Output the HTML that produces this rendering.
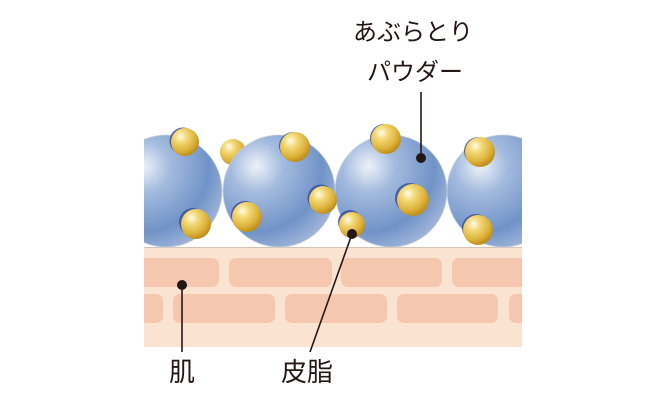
<!DOCTYPE html>
<html><head><meta charset="utf-8"><style>
html,body{margin:0;padding:0;background:#fff;width:670px;height:400px;overflow:hidden}
text{font-family:"Liberation Sans","Noto Sans CJK JP",sans-serif;fill:#231815}
</style></head><body>
<svg width="670" height="400" viewBox="0 0 670 400" xmlns="http://www.w3.org/2000/svg">
<defs>
<radialGradient id="bl" cx="0.3" cy="0.28" r="0.78">
<stop offset="0" stop-color="#eef2f9"/>
<stop offset="0.3" stop-color="#a4bbde"/>
<stop offset="0.75" stop-color="#7093c8"/>
<stop offset="1" stop-color="#9db3d8"/>
</radialGradient>
<radialGradient id="ye" cx="0.35" cy="0.3" r="0.7">
<stop offset="0" stop-color="#fffbe8"/>
<stop offset="0.3" stop-color="#f3da7a"/>
<stop offset="0.75" stop-color="#dcb23a"/>
<stop offset="1" stop-color="#c0901c"/>
</radialGradient>
<clipPath id="cl"><rect x="144" y="0" width="378" height="400"/></clipPath>
</defs>
<rect x="144" y="247" width="378" height="100" fill="#fbe3d2"/>
<line x1="144" y1="247.5" x2="522" y2="247.5" stroke="#d9c2b4" stroke-width="1"/>
<g fill="#f5c7ae" clip-path="url(#cl)">
<rect x="134" y="258" width="85" height="29" rx="7"/>
<rect x="229" y="258" width="103" height="29" rx="7"/>
<rect x="341" y="258" width="101" height="29" rx="7"/>
<rect x="452" y="258" width="80" height="29" rx="7"/>
<rect x="134" y="294" width="29" height="29" rx="7"/>
<rect x="173" y="294" width="102" height="29" rx="7"/>
<rect x="285" y="294" width="102" height="29" rx="7"/>
<rect x="397" y="294" width="101" height="29" rx="7"/>
<rect x="509" y="294" width="30" height="29" rx="7"/>
</g>
<g clip-path="url(#cl)">
<circle cx="233" cy="152" r="13" fill="url(#ye)"/>
<circle cx="166" cy="191" r="56" fill="url(#bl)" stroke="#c8d0dc" stroke-width="0.8"/>
<circle cx="279" cy="191" r="56" fill="url(#bl)" stroke="#c8d0dc" stroke-width="0.8"/>
<circle cx="391" cy="191" r="56" fill="url(#bl)" stroke="#c8d0dc" stroke-width="0.8"/>
<circle cx="503" cy="191" r="56" fill="url(#bl)" stroke="#c8d0dc" stroke-width="0.8"/>
<g fill="#3d50a0" opacity="0.85">
<circle cx="183" cy="141" r="13.5"/><circle cx="193" cy="222" r="14"/>
<circle cx="293" cy="146" r="14"/><circle cx="245" cy="215" r="14"/><circle cx="321" cy="198" r="13.5"/>
<circle cx="384" cy="138" r="14"/><circle cx="410" cy="198" r="15"/><circle cx="350" cy="222" r="12"/>
<circle cx="478" cy="151" r="14"/><circle cx="476" cy="228" r="14"/>
</g>
<g fill="url(#ye)">
<circle cx="185" cy="142" r="14"/><circle cx="196" cy="224" r="15"/>
<circle cx="295" cy="147" r="15"/><circle cx="247" cy="217" r="15"/><circle cx="323" cy="200" r="14"/>
<circle cx="386" cy="139" r="15"/><circle cx="413" cy="200" r="16"/><circle cx="352" cy="225" r="13"/>
<circle cx="480" cy="152" r="15"/><circle cx="478" cy="230" r="15"/>
</g>
</g>
<g stroke="#231815" stroke-width="1.6" fill="none">
<line x1="421" y1="92" x2="421" y2="158"/>
<line x1="182" y1="285" x2="182" y2="352"/>
<line x1="352" y1="234" x2="310" y2="352"/>
</g>
<g fill="#231815">
<circle cx="421" cy="158" r="5"/>
<circle cx="182" cy="285" r="5"/>
<circle cx="352" cy="234" r="5"/>
</g>
<text x="413" y="40" font-size="24" text-anchor="middle">あぶらとり</text>
<text x="415" y="80" font-size="24" text-anchor="middle">パウダー</text>
<text x="182" y="381" font-size="26" text-anchor="middle">肌</text>
<text x="307" y="381" font-size="26" text-anchor="middle">皮脂</text>
</svg>
</body></html>
